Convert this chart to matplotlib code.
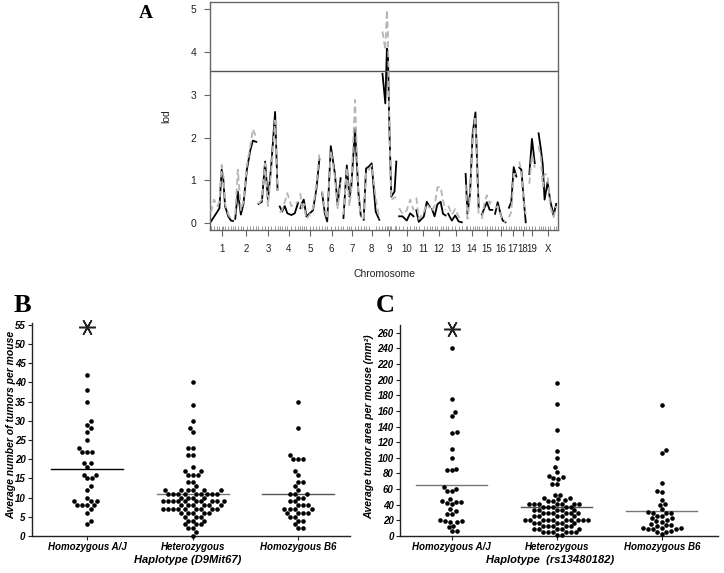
import numpy as np
import matplotlib
matplotlib.use('Agg')
import matplotlib.pyplot as plt

plt.rcParams['font.family'] = ['Liberation Sans', 'DejaVu Sans']

# ---------------- panel A: genome scan ----------------
chr_names = ['1', '2', '3', '4', '5', '6', '7', '8', '9', '10', '11', '12', '13',
             '14', '15', '16', '17', '18', '19', 'X']
chr_len = [110, 105, 95, 92, 98, 95, 90, 80, 75, 75, 67, 70, 73, 70, 58, 55, 42, 36, 38, 97]
chr_gap = 11
threshold = 3.55

# marker positions (cM within chromosome) and lod for the two traits
chr_pos = [
    [0, 15, 32, 42, 53, 62, 70, 87, 100, 110],
    [0, 13, 28, 41, 58, 75, 88, 105],
    [0, 17, 33, 47, 63, 83, 95],
    [0, 12, 25, 38, 58, 75, 92],
    [0, 8, 17, 30, 47, 63, 80, 95],
    [0, 13, 25, 43, 63, 77, 92],
    [0, 17, 30, 38, 58, 75, 87],
    [0, 12, 25, 40, 60, 78],
    [3, 17, 25, 30, 38, 47, 63, 72],
    [0, 17, 38, 55, 72],
    [0, 12, 37, 52, 67],
    [0, 13, 27, 43, 55, 68],
    [0, 18, 35, 52, 68],
    [3, 12, 25, 38, 52, 62, 68],
    [3, 17, 28, 42, 55],
    [0, 13, 27, 38, 52],
    [3, 15, 27, 40],
    [2, 12, 23, 34],
    [5, 18, 32],
    [2, 13, 23, 32, 47, 60, 77, 90],
]
lod_black = [
    [0.04, 0.15, 0.27, 0.35, 1.25, 1.0, 0.4, 0.15, 0.06, 0.05],
    [0.1, 0.74, 0.2, 0.45, 1.25, 1.7, 1.93, 1.9],
    [0.45, 0.5, 1.44, 0.55, 1.3, 2.6, 0.78],
    [0.39, 0.27, 0.4, 0.23, 0.19, 0.23, 0.48],
    [0.35, 0.47, 0.55, 0.16, 0.23, 0.3, 0.8, 1.5],
    [0.7, 0.23, 0.04, 1.8, 1.17, 0.43, 1.05],
    [0.12, 1.35, 0.62, 0.78, 2.2, 0.7, 0.16],
    [0.08, 1.28, 1.32, 1.4, 0.27, 0.08],
    [3.49, 2.8, 4.08, 3.97, 2.1, 0.62, 0.74, 1.44],
    [0.16, 0.16, 0.06, 0.23, 0.16],
    [0.3, 0.03, 0.15, 0.5, 0.38],
    [0.33, 0.16, 0.44, 0.5, 0.22, 0.18],
    [0.22, 0.06, 0.18, 0.04, 0.02],
    [1.15, 0.22, 0.69, 2.09, 2.59, 1.15, 0.37],
    [0.2, 0.37, 0.49, 0.31, 0.31],
    [0.22, 0.49, 0.22, 0.06, 0.02],
    [0.36, 0.49, 1.31, 1.09],
    [1.3, 1.25, 0.6, 0.02],
    [1.15, 1.97, 1.4],
    [2.1, 1.75, 1.36, 0.55, 0.96, 0.53, 0.18, 0.45],
]
lod_grey = [
    [0.25, 0.55, 0.4, 0.5, 1.36, 1.1, 0.45, 0.2, 0.1, 0.08],
    [0.2, 1.25, 0.3, 0.5, 1.35, 1.8, 2.2, 2.0],
    [0.45, 0.55, 1.4, 0.4, 1.2, 2.4, 0.75],
    [0.25, 0.3, 0.5, 0.7, 0.4, 0.45, 0.5],
    [0.7, 0.3, 0.45, 0.1, 0.2, 0.35, 0.9, 1.63],
    [0.75, 0.3, 0.1, 1.7, 1.1, 0.35, 0.95],
    [0.2, 1.3, 0.4, 0.7, 2.88, 0.6, 0.15],
    [0.1, 1.2, 1.25, 1.35, 0.6, 0.1],
    [4.48, 4.05, 4.98, 4.44, 2.1, 0.55, 0.6, 0.6],
    [0.35, 0.22, 0.3, 0.55, 0.3],
    [0.6, 0.1, 0.25, 0.45, 0.35],
    [0.3, 0.4, 0.84, 0.84, 0.53, 0.3],
    [0.41, 0.2, 0.33, 0.15, 0.05],
    [0.9, 0.1, 0.6, 2.0, 2.5, 1.0, 0.15],
    [0.1, 0.5, 0.65, 0.45, 0.57],
    [0.35, 0.4, 0.2, 0.08, 0.02],
    [0.14, 0.26, 1.15, 1.15],
    [1.44, 1.2, 0.5, 0.2],
    [0.92, 1.6, 1.3],
    [1.8, 1.55, 0.85, 1.15, 1.13, 0.4, 0.14, 0.4],
]

# ---------------- panels B and C: scatter by haplotype ----------------
groups = ['Homozygous A/J', 'Heterozygous', 'Homozygous B6']

tumor_aj = [42, 38, 35, 30, 29, 28, 27, 25, 23, 22, 22, 22, 19, 19, 18, 16, 16, 15, 15,
            13, 12, 10, 9, 9, 9, 8, 8, 8, 8, 7, 6, 4, 3]
tumor_het = ([40, 34, 30, 28, 27, 23, 23, 21, 21, 18, 17, 17, 16, 16, 16, 14, 14, 13]
             + [12] * 6 + [11] * 9 + [10] * 4 + [9] * 10 + [8] * 6 + [7] * 9
             + [6] * 5 + [5] * 3 + [4] * 3 + [3] * 3 + [2] * 2 + [1, 0])
tumor_b6 = [35, 28, 21, 20, 20, 20, 17, 16, 14, 14, 13, 12, 11, 11, 11, 10, 10, 9, 9,
            8, 8, 8, 7, 7, 7, 7, 6, 6, 6, 6, 5, 5, 4, 4, 3, 2, 2]

area_aj = [241, 175, 159, 154, 133, 132, 111, 100, 86, 84, 84, 63, 60, 58, 58, 47, 45,
           44, 44, 42, 41, 34, 32, 28, 28, 20, 19, 19, 18, 18, 13, 12, 7, 7]
area_het = ([196, 169, 136, 109, 100, 88, 82, 77, 75, 74, 73, 67, 67]
            + [53, 52, 49, 48, 47, 46, 45, 45] + [41] * 7 + [37] * 5 + [33] * 5
            + [29] * 6 + [25] * 5 + [21] * 10 + [17] * 5 + [13] * 5 + [9] * 5
            + [5] * 6 + [1, 1])
area_b6 = [167, 110, 106, 68, 58, 56, 46, 41, 40, 34, 31, 30, 30, 30, 26, 26, 23, 23,
           20, 19, 18, 15, 14, 14, 13, 10, 10, 10, 9, 9, 9, 6, 5, 5, 3]

W, H = 724, 573
fig = plt.figure(figsize=(W / 100, H / 100), dpi=100)


def px_axes(l, t, r, b):
    return fig.add_axes([l / W, 1 - b / H, (r - l) / W, (b - t) / H])


# ---- A ----
axA = px_axes(210, 2, 558, 230)
starts = np.concatenate([[0], np.cumsum(np.array(chr_len[:-1]) + chr_gap)])
mids = starts + np.array(chr_len) / 2
rug = []
for i in range(len(chr_names)):
    x = starts[i] + np.array(chr_pos[i])
    axA.plot(x, lod_black[i], color='black', lw=1.3, zorder=2)
    axA.plot(x, lod_grey[i], color='#b5b5b5', lw=1.3, ls=(0, (3.5, 2)), zorder=3)
    rug.extend(x)
axA.axhline(threshold, color='#555555', lw=1)
axA.set_xlim(-5, starts[-1] + chr_len[-1] + 2)
axA.set_ylim(-0.16, 5.17)
for s in axA.spines.values():
    s.set_color('#666666')
    s.set_linewidth(1)
axA.set_yticks(range(6))
axA.set_xticks(mids)
axA.set_xticklabels(chr_names)
axA.set_xticks(rug, minor=True)
axA.tick_params(axis='both', which='major', labelsize=7.5, labelcolor='#222222',
                color='#666666', length=4, pad=6)
axA.tick_params(axis='x', which='major', labelsize=7)
axA.tick_params(axis='x', which='minor', direction='in', length=3, width=0.6,
                color='#888888')
axA.set_xlabel('Chromosome', fontsize=7.5, color='#222222')
axA.set_ylabel('lod', fontsize=7.5, color='#222222')
axA.xaxis.set_label_coords(0.5, -0.17)
axA.yaxis.set_label_coords(-0.112, 0.5)


def swarm_x(ax, xc, vals, d):
    vals = np.asarray(vals, dtype=float)
    pts = ax.transData.transform(np.column_stack([np.full(len(vals), xc), vals]))
    order = np.argsort(vals, kind='stable')
    placed = []
    offs = np.zeros(len(vals))
    side = 1
    for i in order:
        y = pts[i, 1]
        near = [(px, py) for px, py in placed if abs(py - y) < d]
        cands = [0.0]
        for px, py in near:
            dx = np.sqrt(d * d - (py - y) ** 2)
            cands += [px + dx, px - dx]
        cands.sort(key=lambda c: (round(abs(c), 4), side * c))
        for c in cands:
            if all((c - px) ** 2 + (y - py) ** 2 >= d * d - 1e-6 for px, py in near):
                break
        placed.append((c, y))
        offs[i] = c
        side = -side
    inv = ax.transData.inverted()
    return inv.transform(np.column_stack([pts[:, 0] + offs, pts[:, 1]]))[:, 0]


bi = dict(fontweight='bold', fontstyle='italic')


def scatter_panel(ax, data, ylim, yticks, ylabel, xlabel, star_y, line_colors,
                  ylab_x, xlab_x):
    ax.set_xlim(*ylim[0])
    ax.set_ylim(*ylim[1])
    for s in ['top', 'right']:
        ax.spines[s].set_visible(False)
    for s in ['left', 'bottom']:
        ax.spines[s].set_color('#222222')
        ax.spines[s].set_linewidth(1)
    for k, vals in enumerate(data):
        xc = k + 1
        xs = swarm_x(ax, xc, vals, 5.0)
        ax.plot(xs, vals, 'o', color='black', ms=3.3, mew=0, clip_on=False, zorder=3)
        m = np.mean(vals)
        ax.plot([xc - 0.34, xc + 0.34], [m, m], color=line_colors[k], lw=1, zorder=2)
    ax.plot(1, star_y, marker=(6, 2, 30), ms=12, mew=1.1, color='#222222',
            clip_on=False)
    ax.set_yticks(yticks, [str(t) for t in yticks], fontsize=7, **bi)
    ax.set_xticks([1, 2, 3], groups, fontsize=7, **bi)
    ax.tick_params(axis='both', length=3, width=0.8, color='#222222', pad=1.5)
    ax.set_ylabel(ylabel, fontsize=7.5, **bi)
    ax.set_xlabel(xlabel, fontsize=8, **bi)
    ax.yaxis.set_label_coords(ylab_x, 0.52)
    ax.xaxis.set_label_coords(xlab_x, -0.088)


# ---- B ----
axB = px_axes(31.7, 323.3, 350, 536)
scatter_panel(axB, [tumor_aj, tumor_het, tumor_b6], ((0.473, 3.49), (0, 55.4)),
              list(range(0, 56, 5)), 'Average number of tumors per mouse',
              'Haplotype (D9Mit67)', 54.5, ['black', '#777777', '#555555'],
              -0.05, 0.49)

# ---- C ----
axC = px_axes(400, 324.9, 718, 536)
scatter_panel(axC, [area_aj, area_het, area_b6], ((0.508, 3.536), (0, 270)),
              list(range(0, 261, 20)), 'Average tumor area per mouse (mm²)',
              'Haplotype  (rs13480182)', 265, ['#777777', '#555555', '#777777'],
              -0.08, 0.472)

serif = ['Liberation Serif', 'DejaVu Serif']
fig.text(146 / W, 1 - 18.3 / H, 'A', fontsize=14, fontweight='bold', family=serif,
         ha='center', va='baseline')
fig.text(22.5 / W, 1 - 312 / H, 'B', fontsize=19, fontweight='bold', family=serif,
         ha='center', va='baseline')
fig.text(385 / W, 1 - 311.7 / H, 'C', fontsize=19, fontweight='bold', family=serif,
         ha='center', va='baseline')

fig.savefig('out.png', dpi=100)
